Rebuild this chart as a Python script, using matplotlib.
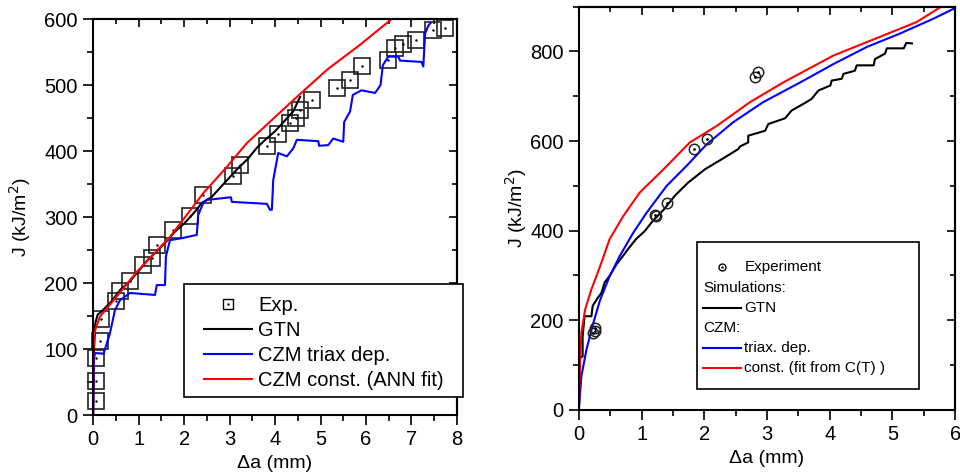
import matplotlib.pyplot as plt
from matplotlib.lines import Line2D
from matplotlib.patches import Rectangle
from matplotlib.ticker import MultipleLocator, NullFormatter

plt.rcParams['font.family'] = ['Liberation Sans', 'DejaVu Sans']

# ---- left panel data ----
expL_x = [0.07, 0.07, 0.07, 0.15, 0.18, 0.51, 0.59, 0.82, 1.10, 1.29, 1.40, 1.76, 2.13, 2.41,
          3.07, 3.23, 3.82, 4.07, 4.33, 4.45, 4.55, 4.81, 5.36, 5.65, 5.91, 6.48, 6.64, 6.82,
          7.10, 7.47, 7.74]
expL_y = [21, 52, 87, 112, 145, 173, 188, 203, 228, 238, 258, 281, 301, 334,
          362, 379, 407, 426, 442, 450, 462, 478, 496, 508, 529, 538, 556, 562,
          568, 583, 586]

gtnL_x = [0, 0.02, 0.05, 0.1, 0.2, 0.4, 0.6, 0.8, 1.0, 1.2, 1.4, 1.6, 1.8, 2.0, 2.2, 2.4,
          2.6, 2.8, 3.0, 3.2, 3.4, 3.6, 3.8, 4.0, 4.2, 4.4, 4.55]
gtnL_y = [0, 100, 140, 152, 158, 172, 190, 202, 218, 235, 248, 262, 278, 290, 305, 322,
          330, 345, 360, 375, 388, 405, 418, 430, 445, 460, 482]

triL_x = [0, 0.02, 0.04, 0.23, 0.37, 0.48, 0.59, 0.81, 1.36, 1.40, 1.58, 1.60, 1.69, 1.95,
          2.28, 2.31, 2.42, 2.5, 3.03, 3.05, 3.82, 3.89, 3.93, 3.96, 4.07, 4.26, 4.40, 4.48,
          4.95, 4.97, 5.17, 5.28, 5.50, 5.52, 5.65, 5.71, 5.90, 6.20, 6.32, 6.37, 6.49, 6.71,
          6.75, 7.22, 7.26, 7.30, 7.37, 7.42]
triL_y = [0, 85, 94, 93, 124, 159, 174, 185, 182, 197, 197, 240, 265, 268,
          273, 303, 321, 326, 330, 323, 320, 311, 311, 356, 397, 392, 404, 417,
          415, 408, 409, 419, 414, 444, 460, 485, 492, 488, 500, 530, 543, 543,
          537, 535, 528, 578, 590, 594]

cstL_x = [0, 0.005, 0.04, 0.15, 0.45, 0.96, 1.69, 2.2, 2.42, 2.94, 3.38, 3.82, 4.40, 5.14,
          5.87, 6.53, 6.6]
cstL_y = [0, 100, 128, 149, 174, 217, 270, 316, 336, 376, 412, 440, 477, 523,
          561, 598, 604]

# ---- right panel data ----
expR_x = [0.22, 0.25, 0.26, 1.21, 1.23, 1.40, 1.84, 2.05, 2.81, 2.86]
expR_y = [172, 183, 177, 436, 432, 461, 583, 604, 744, 754]

gtnR_x = [0, 0.01, 0.06, 0.06, 0.09, 0.20, 0.22, 0.30, 0.36, 0.41, 0.49, 0.60, 0.70, 0.78,
          0.91, 1.05, 1.18, 1.36, 1.53, 1.74, 2.01, 2.32, 2.54, 2.57, 2.70, 2.70, 2.97, 3.02,
          3.29, 3.39, 3.58, 3.71, 3.82, 4.01, 4.03, 4.19, 4.22, 4.40, 4.43, 4.70, 4.72, 4.88,
          4.91, 5.18, 5.22, 5.31]
gtnR_y = [0, 116, 119, 164, 209, 209, 232, 250, 261, 284, 299, 325, 343, 358,
          381, 399, 422, 448, 478, 507, 537, 563, 582, 588, 597, 612, 623, 638,
          651, 668, 683, 694, 713, 724, 735, 739, 750, 757, 769, 769, 783, 795,
          807, 807, 819, 818]

triR_x = [0, 0.04, 0.12, 0.23, 0.34, 0.49, 0.65, 0.87, 1.08, 1.40, 1.72, 2.04, 2.46, 2.94,
          3.53, 4.06, 4.59, 5.12, 5.65, 6.0]
triR_y = [0, 75, 134, 194, 246, 298, 343, 396, 440, 500, 545, 593, 642, 687,
          731, 772, 810, 840, 873, 897]

cstR_x = [0, 0.02, 0.04, 0.10, 0.2, 0.34, 0.49, 0.71, 0.97, 1.35, 1.77, 2.20, 2.73, 3.26,
          4.06, 4.86, 5.39, 5.81, 6.0]
cstR_y = [0, 110, 172, 224, 269, 321, 381, 433, 485, 537, 597, 634, 687, 731,
          791, 836, 866, 903, 915]


def style_axes(ax, xmaj, ymaj):
    ax.xaxis.set_major_locator(MultipleLocator(xmaj))
    ax.xaxis.set_minor_locator(MultipleLocator(xmaj / 2))
    ax.yaxis.set_major_locator(MultipleLocator(ymaj))
    ax.yaxis.set_minor_locator(MultipleLocator(ymaj / 2))
    ax.tick_params(which='both', direction='out', labelsize=14.5, width=1.2, pad=4)
    ax.tick_params(which='major', length=7)
    ax.tick_params(which='minor', length=4)
    for s in ax.spines.values():
        s.set_linewidth(1.5)
    # top / right ticks point inward (Origin style)
    top = ax.secondary_xaxis('top')
    right = ax.secondary_yaxis('right')
    top.xaxis.set_major_locator(MultipleLocator(xmaj))
    top.xaxis.set_minor_locator(MultipleLocator(xmaj / 2))
    right.yaxis.set_major_locator(MultipleLocator(ymaj))
    right.yaxis.set_minor_locator(MultipleLocator(ymaj / 2))
    for sec in (top, right):
        sec.tick_params(which='both', direction='in', width=1.2)
        sec.tick_params(which='major', length=6)
        sec.tick_params(which='minor', length=3.5)
        for s in sec.spines.values():
            s.set_linewidth(1.5)
    top.xaxis.set_major_formatter(NullFormatter())
    right.yaxis.set_major_formatter(NullFormatter())


fig = plt.figure(figsize=(9.6, 4.76), dpi=100)

# left panel
ax1 = fig.add_axes([0.097, 0.128, 0.379, 0.832])
ax1.plot(expL_x, expL_y, 's', ms=11, mfc='none', mec='#222222', mew=1.2, clip_on=False)
ax1.plot(expL_x, expL_y, '.', ms=1.5, color='black')
ax1.plot(gtnL_x, gtnL_y, color='black', lw=1.5)
ax1.plot(triL_x, triL_y, color='#0000ff', lw=1.5)
ax1.plot(cstL_x, cstL_y, color='#ff0000', lw=1.5)
ax1.set_xlim(0, 8)
ax1.set_ylim(0, 600)
style_axes(ax1, 1, 100)
ax1.set_xlabel('\u0394a (mm)', fontsize=14, labelpad=4)
ax1.set_ylabel('J (kJ/m$^2$)', fontsize=14, labelpad=8)

# legend box (frame drawn separately so it can stick out past the axes)
ax1.add_patch(Rectangle((0.25, 0.045), 0.766, 0.286, transform=ax1.transAxes,
                        fill=True, fc='white', ec='black', lw=1.2, clip_on=False, zorder=5))
hL = [(Line2D([], [], ls='none', marker='s', ms=7, mfc='none', mec='black'),
       Line2D([], [], ls='none', marker='.', ms=1.5, color='black')),
      Line2D([], [], color='black', lw=1.5),
      Line2D([], [], color='#0000ff', lw=1.5),
      Line2D([], [], color='#ff0000', lw=1.5)]
lg = ax1.legend(hL, ['Exp.', 'GTN', 'CZM triax dep.', 'CZM const. (ANN fit)'],
                loc='upper left', bbox_to_anchor=(0.305, 0.30),
                borderaxespad=0, borderpad=0, fontsize=14.5, frameon=False,
                handlelength=2.4, handletextpad=0.3, labelspacing=0.3)
lg.set_zorder(6)

# right panel
ax2 = fig.add_axes([0.603, 0.139, 0.392, 0.847])
ax2.plot(gtnR_x, gtnR_y, color='black', lw=1.5)
ax2.plot(triR_x, triR_y, color='#0000ff', lw=1.5)
ax2.plot(cstR_x, cstR_y, color='#ff0000', lw=1.5)
ax2.plot(expR_x, expR_y, 'o', ms=7.5, mfc='none', mec='#222222', mew=1.1)
ax2.plot(expR_x, expR_y, '.', ms=2, color='black')
ax2.set_xlim(0, 6)
ax2.set_ylim(0, 900)
style_axes(ax2, 1, 200)
ax2.set_xlabel('\u0394a (mm)', fontsize=14, labelpad=4)
ax2.set_ylabel('J (kJ/m$^2$)', fontsize=14, labelpad=1)

# right legend drawn by hand (header lines without handles)
tr = ax2.transAxes
ax2.add_patch(Rectangle((0.315, 0.052), 0.588, 0.365, transform=tr, fill=False,
                        ec='black', lw=1.2, zorder=5))
rows = [0.355, 0.303, 0.253, 0.203, 0.153, 0.103]
fs = 11
ax2.plot([0.38], [rows[0]], 'o', ms=5, mfc='none', mec='black', transform=tr)
ax2.plot([0.38], [rows[0]], '.', ms=1.5, color='black', transform=tr)
ax2.text(0.44, rows[0], 'Experiment', transform=tr, fontsize=fs, va='center')
ax2.text(0.33, rows[1], 'Simulations:', transform=tr, fontsize=fs, va='center')
ax2.plot([0.33, 0.43], [rows[2]] * 2, color='black', lw=1.5, transform=tr)
ax2.text(0.44, rows[2], 'GTN', transform=tr, fontsize=fs, va='center')
ax2.text(0.33, rows[3], 'CZM:', transform=tr, fontsize=fs, va='center')
ax2.plot([0.33, 0.43], [rows[4]] * 2, color='#0000ff', lw=1.5, transform=tr)
ax2.text(0.44, rows[4], 'triax. dep.', transform=tr, fontsize=fs, va='center')
ax2.plot([0.33, 0.43], [rows[5]] * 2, color='#ff0000', lw=1.5, transform=tr)
ax2.text(0.44, rows[5], 'const. (fit from C(T) )', transform=tr, fontsize=fs, va='center')

fig.savefig('out.png', dpi=100)
